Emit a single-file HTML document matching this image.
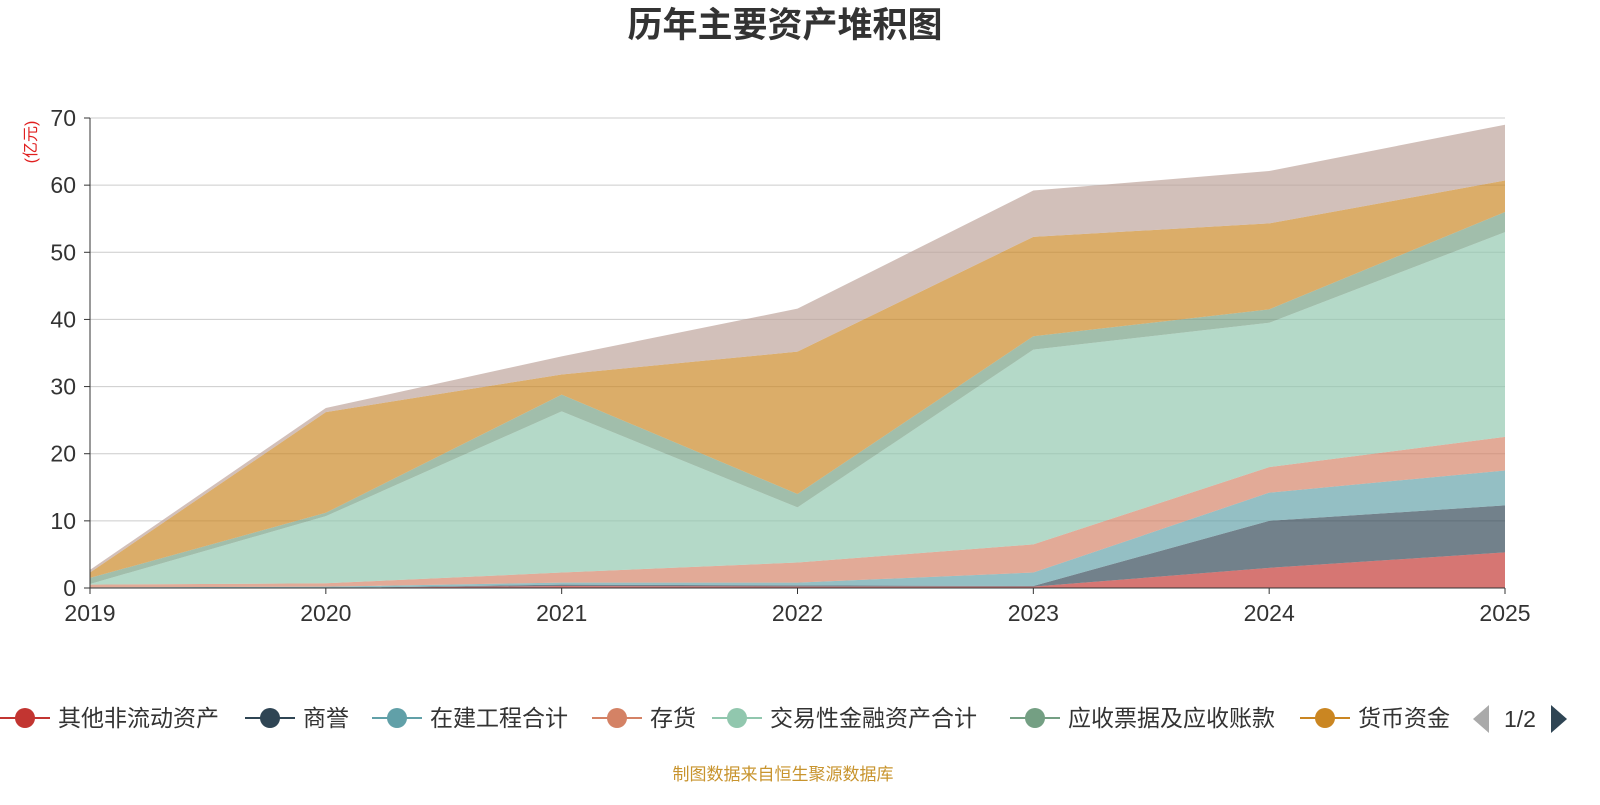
<!DOCTYPE html>
<html><head><meta charset="utf-8"><style>
body{margin:0;background:#fff;font-family:"Liberation Sans","Noto Sans CJK SC",sans-serif;}
svg text{font-family:"Liberation Sans","Noto Sans CJK SC",sans-serif;}
</style></head><body>
<svg id="c" width="1600" height="800" xmlns="http://www.w3.org/2000/svg">
<text x="785" y="37" text-anchor="middle" font-size="35" font-weight="bold" fill="#333">历年主要资产堆积图</text>
<text transform="translate(36,142) rotate(-90)" text-anchor="middle" font-size="16" fill="#e02020">(亿元)</text>
<g id="grid"></g><g id="areas"></g><g id="axes"></g><g id="legend"></g>
<text x="783" y="780" text-anchor="middle" font-size="17" fill="#c8942e">制图数据来自恒生聚源数据库</text>
</svg>
<script>
const years=['2019','2020','2021','2022','2023','2024','2025'];
const yTicks=[0,10,20,30,40,50,60,70];
const seriesNames=['其他非流动资产','商誉','在建工程合计','存货','交易性金融资产合计','应收票据及应收账款','货币资金','其他'];
const sOther=[0,0,0.3,0.2,0.2,3,5.3];
const sGoodwill=[0,0,0.2,0.2,0.1,7,7];
const sConstr=[0.1,0.2,0.3,0.4,2,4.2,5.2];
const sInventory=[0.4,0.5,1.5,3,4.2,3.8,5];
const sTrading=[0.1,10,24,8.2,29,21.5,30.5];
const sRecv=[0.9,0.5,2.5,2,2,2,3];
const sCash=[0.8,15,3,21.2,14.8,12.8,4.7];
const sRest=[0.4,0.6,2.7,6.4,6.9,7.8,8.3];
const colors=['#c23531','#2f4554','#61a0a8','#d48265','#91c7ae','#749f83','#ca8622','#bda29a'];
const allS=[sOther,sGoodwill,sConstr,sInventory,sTrading,sRecv,sCash,sRest];
const NS='http://www.w3.org/2000/svg';
const X0=90,X1=1505,Y0=588,Y1=118;
const xs=i=>X0+(X1-X0)*i/(years.length-1);
const ys=v=>Y0-(Y0-Y1)*v/70;
function mk(t,a,p){const e=document.createElementNS(NS,t);for(const k in a)e.setAttribute(k,a[k]);p.appendChild(e);return e;}
const grid=document.getElementById('grid'),axes=document.getElementById('axes'),areas=document.getElementById('areas'),leg=document.getElementById('legend');
yTicks.forEach(v=>{
 if(v>0){const l=mk('line',{x1:X0,x2:X1,y1:ys(v),y2:ys(v),stroke:'#ccc'},grid);
 
 }
 const t=mk('text',{x:76,y:ys(v)+8,'text-anchor':'end','font-size':23,fill:'#333'},axes);t.textContent=v;
 
 
 mk('line',{x1:84,x2:X0,y1:ys(v),y2:ys(v),stroke:'#333'},axes);
});
let base=years.map(()=>0);
allS.forEach((s,k)=>{
 const top=base.map((b,i)=>b+s[i]);
 let d='M'+top.map((v,i)=>xs(i)+','+ys(v)).join(' L');
 for(let i=years.length-1;i>=0;i--)d+=' L'+xs(i)+','+ys(base[i]);
 const p=mk('path',{d:d+'Z',fill:colors[k],'fill-opacity':0.68,stroke:'none'},areas);
 
 
 base=top;
});
mk('line',{x1:X0,x2:X0,y1:Y1,y2:Y0,stroke:'#333'},axes);
mk('line',{x1:X0,x2:X1,y1:Y0,y2:Y0,stroke:'#333'},axes);
years.forEach((y,i)=>{
 mk('line',{x1:xs(i),x2:xs(i),y1:Y0,y2:Y0+6,stroke:'#333'},axes);
 const t=mk('text',{x:xs(i),y:621,'text-anchor':'middle','font-size':23,fill:'#333'},axes);t.textContent=y;
 
 
});
const lx=[0,245,372,592,712,1010,1300];
lx.forEach((x,k)=>{
 const g=mk('g',{},leg);
 
 
 mk('line',{x1:x,x2:x+50,y1:718,y2:718,stroke:colors[k],'stroke-width':2},g);
 mk('circle',{cx:x+25,cy:718,r:10,fill:colors[k]},g);
 const t=mk('text',{x:x+58,y:726,'font-size':23,fill:'#333'},g);t.textContent=seriesNames[k];
});
const pv=mk('path',{d:'M1489,705 L1489,733 L1473,719Z',fill:'#aaa'},leg);


const pt=mk('text',{x:1520,y:727,'text-anchor':'middle','font-size':23,fill:'#333'},leg);pt.textContent='1/2';


const nx=mk('path',{d:'M1551,705 L1551,733 L1567,719Z',fill:'#2f4554'},leg);


</script>
</body></html>
